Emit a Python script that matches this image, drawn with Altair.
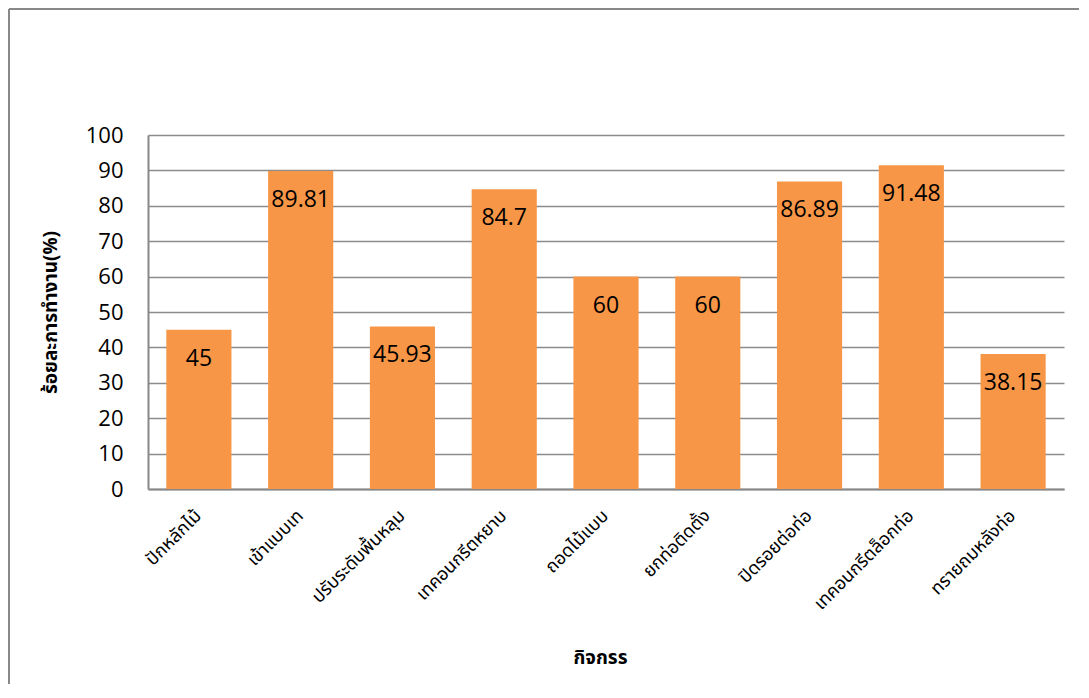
import altair as alt
import pandas as pd

categories = ["ปักหลักไม้", "เข้าแบบเท", "ปรับระดับพื้นหลุม", "เทคอนกรีตหยาบ",
              "ถอดไม้แบบ", "ยกท่อติดตั้ง", "ปิดรอยต่อท่อ", "เทคอนกรีตล็อกท่อ", "ทรายถมหลังท่อ"]
values = [45, 89.81, 45.93, 84.7, 60, 60, 86.89, 91.48, 38.15]
labels = ["45", "89.81", "45.93", "84.7", "60", "60", "86.89", "91.48", "38.15"]
y_ticks = [0, 10, 20, 30, 40, 50, 60, 70, 80, 90, 100]

df = pd.DataFrame({"cat": categories, "val": values, "lab": labels})

W, H = 916, 354
NUM_FONT = "Open Sans"
THAI_FONT = "Noto Sans Thai, Tahoma, Noto Sans, sans-serif"

x_enc = alt.X("cat:N", sort=categories,
              scale=alt.Scale(paddingInner=0.36, paddingOuter=0.18),
              axis=alt.Axis(title="กิจกรร", labelAngle=-45, labelAlign="right",
                            labelBaseline="middle", labelPadding=24, labelFont=THAI_FONT,
                            labelFontSize=18, labelColor="#000", ticks=False,
                            domainColor="#888", domainWidth=2, labelOverlap=False,
                            titleFont=THAI_FONT, titleFontSize=19, titleFontWeight="bold",
                            titleColor="#000", titleX=452, titleY=168,
                            titleAlign="center", titleBaseline="middle"))
y_enc = alt.Y("val:Q", scale=alt.Scale(domain=[0, 100], nice=False),
              axis=alt.Axis(title="ร้อยละการทำงาน(%)", values=y_ticks, tickCount=11,
                            ticks=False, labelOverlap=False,
                            labelPadding=25, labelFont=NUM_FONT, labelFontSize=22,
                            labelColor="#000", domainColor="#888", domainWidth=2,
                            grid=True, gridColor="#8c8c8c", gridWidth=1.5,
                            titleFont=THAI_FONT, titleFontSize=19, titleFontWeight="bold",
                            titleColor="#000", titleAngle=-90, titleX=-98, titleY=177,
                            titleAlign="center", titleBaseline="middle"))

bars = alt.Chart(df).mark_bar(color="#F79646").encode(x=x_enc, y=y_enc)
text = alt.Chart(df).mark_text(font=NUM_FONT, fontSize=23, color="#000",
                               baseline="middle", dy=29).encode(
    x=alt.X("cat:N", sort=categories), y="val:Q", text="lab:N")

frame_top = alt.Chart(df).mark_rule(color="#888", strokeWidth=2).encode(
    x=alt.value(-139), x2=alt.value(W + 15), y=alt.value(-126))
frame_left = alt.Chart(df).mark_rule(color="#888", strokeWidth=2).encode(
    x=alt.value(-139), y=alt.value(-126), y2=alt.value(H + 200))

chart = alt.layer(bars, text, frame_top, frame_left).properties(
    width=W, height=H,
    autosize=alt.AutoSizeParams(type="none"),
    padding={"left": 140, "top": 127, "right": 15, "bottom": 195},
).configure_view(stroke=None)

chart.save("out.html", embed_options={"renderer": "svg", "actions": False})
